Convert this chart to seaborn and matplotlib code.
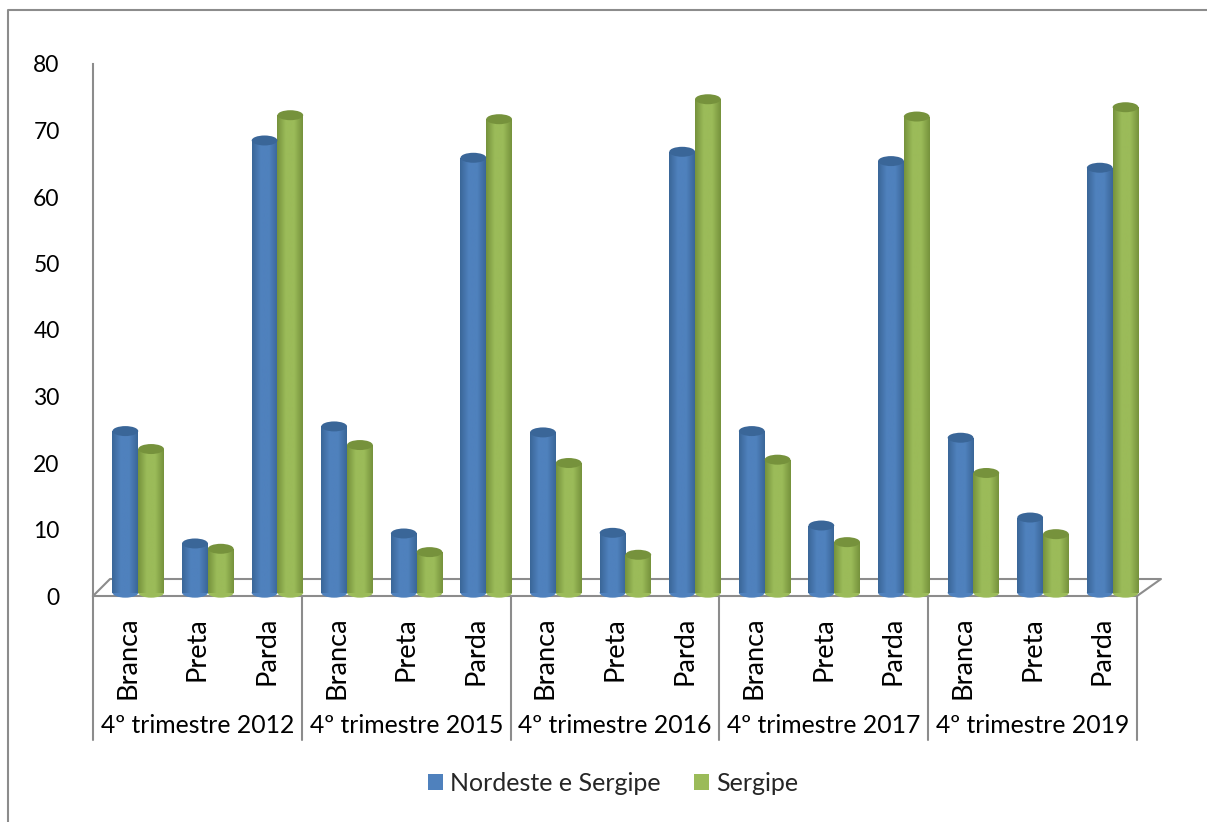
import numpy as np
import pandas as pd
import matplotlib
matplotlib.use("Agg")
import matplotlib.pyplot as plt
import matplotlib.transforms as mtransforms
from matplotlib.lines import Line2D
from matplotlib.patches import Ellipse, Patch
from matplotlib.colors import LinearSegmentedColormap
import seaborn as sns

# ---- data ----
periods = ["4º trimestre 2012", "4º trimestre 2015", "4º trimestre 2016",
           "4º trimestre 2017", "4º trimestre 2019"]
races = ["Branca", "Preta", "Parda"]
series_names = ["Nordeste e Sergipe", "Sergipe"]
nordeste = [24.3, 7.4, 68.0,
            25.0, 8.9, 65.4,
            24.1, 9.0, 66.3,
            24.3, 10.1, 64.9,
            23.3, 11.3, 63.9]
sergipe = [21.6, 6.6, 71.8,
           22.2, 6.1, 71.2,
           19.5, 5.7, 74.2,
           20.0, 7.6, 71.6,
           18.0, 8.8, 73.0]
yticks = [0, 10, 20, 30, 40, 50, 60, 70, 80]

colors = ["#4F81BD", "#9BBB59"]
dark = ["#3A6698", "#76923C"]

keys = [f"{p}|{r}" for p in periods for r in races]
df = pd.DataFrame({
    "cat": keys * 2,
    "valor": nordeste + sergipe,
    "serie": [series_names[0]] * len(keys) + [series_names[1]] * len(keys),
})

sns.set_theme(style="white")
plt.rcParams["font.family"] = ["Lato", "DejaVu Sans"]

W, H = 1207, 822
fig = plt.figure(figsize=(W / 100, H / 100), dpi=100)
fig.patch.set_facecolor("white")

def fx(px):
    return px / W

def fy(py):
    return 1 - py / H

ax = fig.add_axes([fx(93), fy(596), fx(1137) - fx(93), fy(64) - fy(596)])
ax.set_facecolor("none")
sns.barplot(data=df, x="cat", y="valor", hue="serie", order=keys,
            hue_order=series_names, palette=colors, width=0.74,
            saturation=1, ax=ax, legend=False, errorbar=None)

ax.set_xlim(-0.5, len(keys) - 0.5)
ax.set_ylim(0, 80)
ax.set_yticks(yticks)
ax.set_yticklabels([str(v) for v in yticks], fontsize=16.5)
ax.set_xticks(range(len(keys)))
ax.set_xticklabels([k.split("|")[1] for k in keys], rotation=90, fontsize=19.5,
                   va="top", ha="center")
ax.tick_params(axis="y", length=0, pad=24, colors="black")
ax.tick_params(axis="x", length=0, pad=15, colors="black")
ax.set_xlabel("")
ax.set_ylabel("")
for s in ["top", "right"]:
    ax.spines[s].set_visible(False)
ax.spines["left"].set_color("#8C8C8C")
ax.spines["left"].set_linewidth(1.5)
ax.spines["bottom"].set_color("#8C8C8C")
ax.spines["bottom"].set_linewidth(1.5)

# cylinder-like shading on bars
shift = 0.15
lift = 0.5
n = len(keys)
ell_h = 1.5
grad = np.linspace(0, 1, 64).reshape(1, -1)
for i, p in enumerate(ax.patches[: 2 * n]):
    si = 0 if i < n else 1
    p.set_x(p.get_x() + shift)
    p.set_y(lift)
    p.set_clip_on(False)
    p.set_edgecolor("none")
    p.set_zorder(3)
    x0, w, h = p.get_x(), p.get_width(), p.get_height()
    cmap = LinearSegmentedColormap.from_list(
        "c", [dark[si], colors[si], colors[si], dark[si]], N=64)
    im = ax.imshow(grad, extent=[x0, x0 + w, lift, lift + h], aspect="auto",
                   cmap=cmap, zorder=3.1, interpolation="bilinear")
    im.set_clip_path(p)
    ax.add_patch(Ellipse((x0 + w / 2, lift), w, ell_h, facecolor=colors[si],
                         edgecolor="none", zorder=3, clip_on=False))
    ax.add_patch(Ellipse((x0 + w / 2, lift + h), w, ell_h, facecolor=dark[si],
                         edgecolor="none", zorder=3.2, clip_on=False))
ax.set_xlim(-0.5, len(keys) - 0.5)
ax.set_ylim(0, 80)

# 3D floor outline
floor_pts = [(93, 596), (110, 579), (1161, 579), (1137, 596)]
fig.add_artist(Line2D([fx(x) for x, _ in floor_pts], [fy(y) for _, y in floor_pts],
                      color="#8C8C8C", lw=1.5, zorder=-1))

# group separators and labels
blend = mtransforms.blended_transform_factory(ax.transData, fig.transFigure)
for b in np.arange(-0.5, len(keys), 3):
    ax.add_line(Line2D([b, b], [fy(596), fy(740)], transform=blend,
                       color="#8C8C8C", lw=1.5, clip_on=False))
for gi, per in enumerate(periods):
    ax.text(gi * 3 + 1, fy(725), per, transform=blend, ha="center",
            va="center", fontsize=17.8, color="black")

# chart border
fig.add_artist(Line2D([fx(8), fx(8), fx(1207)], [fy(822), fy(10), fy(10)],
                      color="#8C8C8C", lw=1.5))

# legend
handles = [Patch(facecolor=c, edgecolor="none") for c in colors]
fig.legend(handles, series_names, loc="center", bbox_to_anchor=(fx(613), fy(783)),
           ncol=2, frameon=False, fontsize=18, handlelength=0.6, handleheight=0.6,
           handletextpad=0.3, columnspacing=1.3)

fig.savefig("out.png", dpi=100, facecolor="white")
